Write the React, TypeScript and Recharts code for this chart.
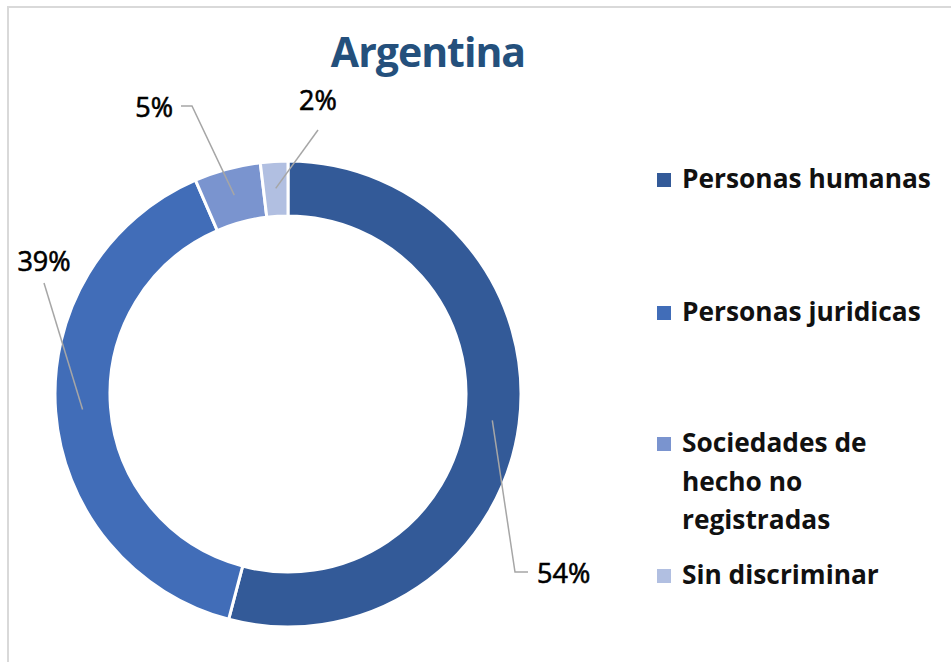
import { Cell, Legend, Pie, PieChart } from "recharts";

const categories = ["Personas humanas", "Personas juridicas", "Sociedades de hecho no registradas", "Sin discriminar"];
const shares = [54.1, 39.4, 4.6, 1.9];
const colors = ["#335a98", "#416db8", "#7a94cf", "#b1bfe1"];

const data = categories.map((name, i) => ({ name, value: shares[i] }));

const RAD = Math.PI / 180;
const font = "'Open Sans', 'Noto Sans', sans-serif";

// where each percent label sits, as offsets from the pie centre (text baseline + leader bends)
const labelLayout = [
  { tx: 249, ty: 189, anchor: "start", bends: [[227, 178], [240, 178]] },
  { tx: -244, ty: -123, anchor: "middle", bends: [[-244, -111]] },
  { tx: -115, ty: -277, anchor: "end", bends: [[-96, -288], [-107, -288]] },
  { tx: 30, ty: -284, anchor: "middle", bends: [[30, -264]] },
];

// legend rows, top of each row inside the legend box
const legendTops = [0, 133, 264, 396];

function renderLabel(props: any) {
  const { cx, cy, midAngle, percent, index } = props;
  const lay = labelLayout[index];
  const r = 206;
  const sx = cx + r * Math.cos(-midAngle * RAD);
  const sy = cy + r * Math.sin(-midAngle * RAD);
  const pts = [[sx, sy], ...lay.bends.map(([x, y]) => [cx + x, cy + y])];
  return (
    <g key={`lbl-${index}`}>
      <polyline points={pts.map((p) => p.join(",")).join(" ")} fill="none" stroke="#a6a6a6" strokeWidth={1.5} />
      <text x={cx + lay.tx} y={cy + lay.ty} textAnchor={lay.anchor} fill="#000" stroke="#000" strokeWidth={0.6} fontSize={27} fontFamily={font}>
        {`${Math.round(percent * 100)}%`}
      </text>
    </g>
  );
}

function renderLegend(props: any) {
  const items = [...props.payload].sort((a: any, b: any) => categories.indexOf(a.value) - categories.indexOf(b.value));
  return (
    <div style={{ position: "relative", width: 290, height: 440, fontFamily: font }}>
      {items.map((entry: any, i: number) => (
        <div key={entry.value} style={{ position: "absolute", top: legendTops[i], left: 0, display: "flex", alignItems: "flex-start" }}>
          <span style={{ width: 14, height: 14, marginTop: 14, background: entry.color, flexShrink: 0 }} />
          <span style={{ marginLeft: 11, width: 258, fontSize: 26.3, fontWeight: 700, lineHeight: "38.5px", color: "#111" }}>{entry.value}</span>
        </div>
      ))}
    </div>
  );
}

export default function App() {
  return (
    <div style={{ position: "absolute", left: 0, top: 0, width: 951, height: 662, overflow: "hidden", background: "#fff" }}>
      <div style={{ position: "absolute", left: 7, top: 6, width: 960, height: 670, borderLeft: "2px solid #d9d9d9", borderTop: "2px solid #d9d9d9" }} />
      <svg width={951} height={100} style={{ position: "absolute", left: 0, top: 0 }}>
        <text x={428} y={67} textAnchor="middle" fill="#24507c" fontSize={41} fontWeight={700} letterSpacing={-1} fontFamily={font}>
          Argentina
        </text>
      </svg>
      <div style={{ position: "absolute", left: 0, top: 0 }}>
        <PieChart width={951} height={662} margin={{ top: 0, right: 0, bottom: 0, left: 0 }}>
          <Pie
            data={data}
            dataKey="value"
            nameKey="name"
            cx={288}
            cy={394}
            innerRadius={178}
            outerRadius={233}
            startAngle={90}
            endAngle={-270}
            stroke="#fff"
            strokeWidth={3}
            label={renderLabel}
            labelLine={false}
            isAnimationActive={false}
          >
            {data.map((d, i) => (
              <Cell key={d.name} fill={colors[i]} />
            ))}
          </Pie>
          <Legend content={renderLegend} wrapperStyle={{ position: "absolute", left: 657, top: 159, width: 290, height: 440 }} />
        </PieChart>
      </div>
    </div>
  );
}
